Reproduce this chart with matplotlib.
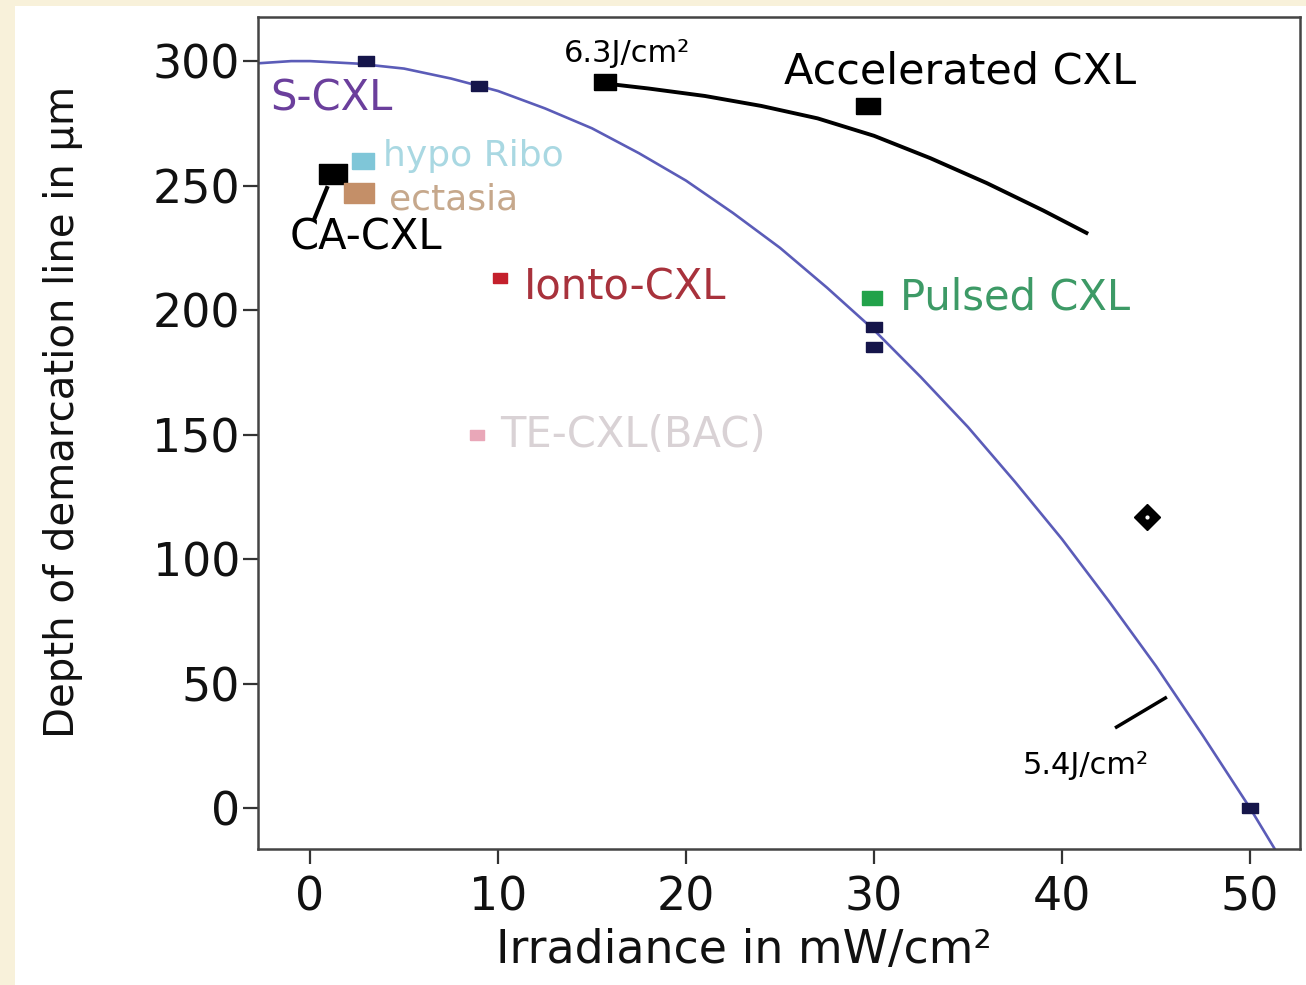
import matplotlib.pyplot as plt
from matplotlib.patches import Rectangle

# fitted S-CXL curve
fit_x = [-3, -1, 0, 2.5, 5, 7.5, 10, 12.5, 15, 17.5, 20, 22.5, 25, 27.5, 30,
         32.5, 35, 37.5, 40, 42.5, 45, 47.5, 50, 52]
fit_y = [299, 300, 300, 299, 297, 293, 288, 281, 273, 263, 252, 239, 225, 209, 192,
         173, 153, 131, 108, 83, 57, 29, 0, -25]

# accelerated CXL curve
acc_x = [15.7, 18, 21, 24, 27, 30, 33, 36, 39, 41.3]
acc_y = [291, 289, 286, 282, 277, 270, 261, 251, 240, 231]

# S-CXL measured points
scxl_x = [3, 9, 30, 30, 50]
scxl_y = [300, 290, 193, 185, 0]

# single study points: x, y, colour
studies = {
    "CA-CXL": (1.2, 254.5, "#000000"),
    "hypo Ribo": (2.8, 260, "#7fc6d8"),
    "ectasia": (2.6, 247, "#c48f68"),
    "Ionto-CXL": (10.1, 213, "#c4202c"),
    "Pulsed CXL": (29.9, 205, "#22a24a"),
    "TE-CXL(BAC)": (8.9, 150, "#e9a7b8"),
    "6.3J/cm²": (15.7, 291.5, "#000000"),
    "Accelerated CXL": (29.7, 282, "#000000"),
}
diamond = (44.5, 117)

# the source picture is stretched sideways, so the squares are wide boxes
box = [(-1.4, -1), (1.4, -1), (1.4, 1), (-1.4, 1), (-1.4, -1)]

fig = plt.figure(figsize=(13.06, 9.85), dpi=100)
fig.patch.set_facecolor("#f8f1da")
bg = Rectangle((15 / 1306, 0), 1, 1 - 6 / 985, transform=fig.transFigure,
               facecolor="white", edgecolor="none", zorder=-5)
fig.add_artist(bg)

ax = fig.add_axes([0.1975, 0.138, 0.7979, 0.8447])
ax.set_zorder(2)
ax.set_facecolor("white")

ax.plot(fit_x, fit_y, color="#5b5cb8", lw=1.9, zorder=2)
ax.plot(acc_x, acc_y, color="black", lw=2.8, zorder=2)

ax.plot(scxl_x, scxl_y, ls="none", marker=box, ms=11, color="#15154a", zorder=3)

sizes = {"CA-CXL": 20, "hypo Ribo": 16, "ectasia": 21, "Ionto-CXL": 10,
         "Pulsed CXL": 14, "TE-CXL(BAC)": 10, "6.3J/cm²": 16, "Accelerated CXL": 17}
for name, (x, y, c) in studies.items():
    ax.plot(x, y, ls="none", marker=box, ms=sizes[name], color=c, zorder=4)

ax.plot(*diamond, ls="none", marker="D", ms=13, color="black", zorder=4)
ax.plot(*diamond, ls="none", marker="o", ms=2, color="white", zorder=5)

# small connector strokes
ax.plot([0.9, 0.25], [249, 237], color="black", lw=3)
ax.plot([42.9, 45.5], [32.5, 44.2], color="black", lw=2.5)

fs = 30
ax.text(-2.1, 285, "S-CXL", color="#6b3f9c", fontsize=fs, va="center")
ax.text(3.9, 262, "hypo Ribo", color="#a9d8e2", fontsize=26, va="center")
ax.text(4.2, 244.5, "ectasia", color="#c6a88c", fontsize=26, va="center")
ax.text(-1.1, 229, "CA-CXL", color="black", fontsize=fs, va="center")
ax.text(11.4, 209, "Ionto-CXL", color="#a8323c", fontsize=fs, va="center")
ax.text(31.4, 205, "Pulsed CXL", color="#3d9a66", fontsize=fs, va="center")
ax.text(10.1, 150, "TE-CXL(BAC)", color="#d9d2d5", fontsize=fs, va="center")
ax.text(25.2, 296, "Accelerated CXL", color="black", fontsize=31, va="center")
ax.text(13.5, 303, "6.3J/cm²", color="black", fontsize=22, va="center")
ax.text(37.9, 17, "5.4J/cm²", color="black", fontsize=22, va="center")

ax.set_xlim(-2.77, 52.66)
ax.set_ylim(-16.5, 317.7)
ax.set_xticks([0, 10, 20, 30, 40, 50])
ax.set_yticks([0, 50, 100, 150, 200, 250, 300])

for s in ax.spines.values():
    s.set_color("#444444")
    s.set_linewidth(1.8)

ax.tick_params(axis="both", direction="out", length=11, width=1.6, colors="#333333",
               labelsize=33, labelcolor="#111111")
ax.tick_params(axis="x", pad=8)
ax.tick_params(axis="y", pad=2)

ax.set_xlabel("Irradiance in mW/cm²", fontsize=33, color="#111111")
ax.set_ylabel("Depth of demarcation line in µm", fontsize=29, color="#111111")
ax.xaxis.set_label_coords(0.466, -0.095)
ax.yaxis.set_label_coords(-0.168, 0.525)

fig.savefig("out.png", dpi=100, facecolor=fig.get_facecolor())
